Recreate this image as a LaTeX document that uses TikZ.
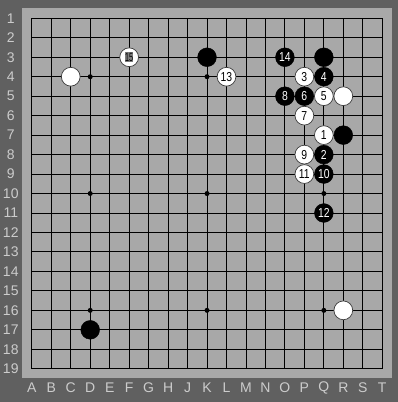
\documentclass[tikz,border=0pt]{standalone}
\usepackage{fontspec}
\setmainfont{Liberation Sans}
\newfontfamily\stonefont[FakeStretch=0.8]{Liberation Sans}
\newfontfamily\tightfont[FakeStretch=0.6]{Liberation Sans}
\definecolor{outerbg}{RGB}{96,96,96}
\definecolor{boardbg}{RGB}{168,168,168}
\definecolor{labelgray}{RGB}{204,204,204}
\definecolor{stoneedge}{RGB}{60,60,60}
\definecolor{markgray}{RGB}{125,125,125}
\tikzset{
  gridline/.style={line width=0.9pt, black},
  starpt/.style={circle, fill=black, inner sep=0pt, minimum size=5pt},
  stone/.style={circle, inner sep=0pt, minimum size=18.8pt, font=\stonefont\fontsize{13}{14}\selectfont},
  wstone/.style={stone, fill=white, draw=stoneedge, line width=0.7pt, text=black},
  bstone/.style={stone, fill=black, draw=black, text=white},
  coordlabel/.style={text=labelgray, font=\fontsize{14}{15}\selectfont, inner sep=0pt},
  markbox/.style={fill=markgray, inner sep=0pt, minimum width=7pt, minimum height=9.5pt, text=black, font=\tightfont\fontsize{12}{13}\selectfont}
}
\begin{document}
\begin{tikzpicture}[x=1pt, y=-1pt]
  \fill[outerbg] (0,0) rectangle (398,402);
  \fill[boardbg] (21.7,7.7) rectangle (392,378);
  \useasboundingbox (0,0) rectangle (398,402);
  \begin{scope}[shift={(31.8,18.3)}, x=19.47pt, y=-19.47pt]
    % grid
    \foreach \i in {0,...,18} {
      \draw[gridline] (\i,0) -- (\i,18);
      \draw[gridline] (0,\i) -- (18,\i);
    }
    % star points
    \foreach \cx in {3,9,15} \foreach \cy in {3,9,15}
      \node[starpt] (star-\cx-\cy) at (\cx,\cy) {};
    % column labels
    \foreach \l [count=\i from 0] in {A,B,C,D,E,F,G,H,J,K,L,M,N,O,P,Q,R,S,T}
      \node[coordlabel] (col-\l) at (\i,18.98) {\l};
    % row labels
    \foreach \r in {1,...,19}
      \node[coordlabel] (row-\r) at (-1.08,\r-1) {\r};
    % stones (col index, row-1)
    \node[wstone] (C4) at (2,3) {};
    \node[wstone] (F3) at (5,2) {};
    \node[markbox] (F3m) at (F3) {15};
    \node[bstone] (K3) at (9,2) {};
    \node[wstone] (L4) at (10,3) {13};
    \node[bstone] (O3) at (13,2) {14};
    \node[bstone] (Q3) at (15,2) {};
    \node[wstone] (P4) at (14,3) {3};
    \node[bstone] (Q4) at (15,3) {4};
    \node[bstone] (O5) at (13,4) {8};
    \node[bstone] (P5) at (14,4) {6};
    \node[wstone] (Q5) at (15,4) {5};
    \node[wstone] (R5) at (16,4) {};
    \node[wstone] (P6) at (14,5) {7};
    \node[wstone] (Q7) at (15,6) {1};
    \node[bstone] (R7) at (16,6) {};
    \node[wstone] (P8) at (14,7) {9};
    \node[bstone] (Q8) at (15,7) {2};
    \node[wstone] (P9) at (14,8) {11};
    \node[bstone] (Q9) at (15,8) {10};
    \node[bstone] (Q11) at (15,10) {12};
    \node[wstone] (R16) at (16,15) {};
    \node[bstone] (D17) at (3,16) {};
  \end{scope}
\end{tikzpicture}
\end{document}
